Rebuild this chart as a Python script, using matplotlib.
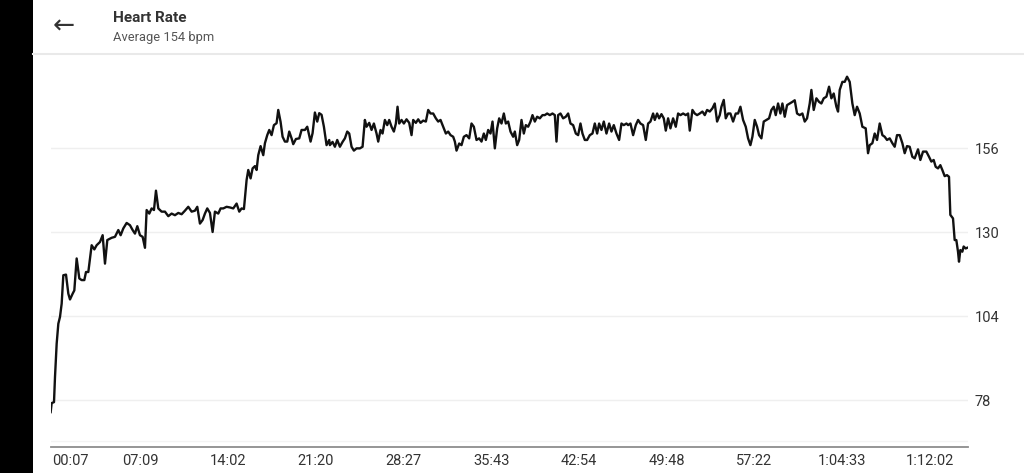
import matplotlib
matplotlib.use('Agg')
import matplotlib.pyplot as plt
from matplotlib.lines import Line2D
from matplotlib.patches import Rectangle

plt.rcParams['font.family'] = ['Roboto', 'DejaVu Sans']

# heart rate trace, position along the session (watch sample clock) vs bpm
t = [152, 155, 162, 165, 170, 175, 180, 185, 190, 198, 205, 210, 218, 223, 230, 238, 245, 253, 258, 265,
     270, 275, 283, 290, 300, 308, 315, 322, 335, 345, 355, 362, 370, 380, 390, 398, 405, 412, 420, 428,
     435, 440, 448, 455, 462, 468, 475, 485, 495, 505, 515, 525, 535, 545, 555, 565, 575, 585, 592, 600,
     608, 615, 622, 630, 638, 645, 655, 662, 670, 680, 690, 700, 710, 718, 725, 732, 740, 745, 752, 758,
     765, 770, 775, 782, 790, 795, 802, 808, 815, 822, 830, 835, 842, 848, 855, 862, 868, 875, 880, 888,
     898, 905, 915, 922, 932, 938, 945, 952, 958, 965, 972, 980, 988,
     990, 998, 1005, 1012, 1020, 1028, 1035, 1042, 1048, 1055, 1062, 1070, 1080, 1088, 1095, 1100, 1108,
     1115, 1122, 1130, 1135, 1142, 1148, 1155, 1162, 1168, 1175, 1182, 1188, 1193, 1198, 1205, 1212, 1220,
     1228, 1235, 1240, 1248, 1255, 1262, 1270, 1278, 1285, 1292, 1300, 1308, 1315, 1322, 1330, 1338, 1345,
     1352, 1360, 1365, 1370, 1378, 1385, 1392, 1400, 1408, 1415, 1422, 1430, 1438, 1445, 1452, 1458, 1465,
     1472, 1478, 1485, 1492, 1498, 1505, 1512, 1518, 1525, 1532, 1540, 1545, 1552, 1558, 1565, 1572, 1578,
     1585, 1592, 1598, 1605, 1612, 1620, 1628, 1635, 1642, 1650, 1658, 1665, 1670, 1675, 1682, 1690, 1698,
     1705, 1712, 1720, 1728, 1735, 1742, 1748, 1755, 1762, 1770, 1778, 1785, 1792, 1798, 1805, 1812, 1820,
     1828, 1835, 1842, 1850, 1858, 1865, 1872, 1880,
     1885, 1892, 1900, 1908, 1915, 1922, 1930, 1938, 1945, 1952, 1960, 1965, 1972, 1978, 1985, 1992, 1998,
     2005, 2012, 2020, 2028, 2035, 2042, 2050, 2058, 2065, 2070, 2078, 2085, 2092, 2100, 2108, 2115, 2122,
     2130, 2138, 2145, 2152, 2160, 2165, 2172, 2178, 2185, 2192, 2200, 2208, 2215, 2222, 2230, 2238, 2245,
     2252, 2258, 2265, 2272, 2278, 2285, 2292, 2300, 2308, 2315, 2322, 2328, 2335, 2342, 2348, 2355, 2362,
     2370, 2378, 2385, 2392, 2400, 2408, 2415, 2422, 2430, 2435, 2442, 2450, 2458, 2465, 2472, 2480, 2488,
     2495, 2502, 2510, 2515, 2520, 2528, 2535, 2542, 2550, 2558, 2565, 2572, 2580, 2588, 2598, 2605, 2610,
     2618, 2625, 2632, 2640, 2648, 2655, 2662, 2670, 2678, 2685, 2692, 2700,
     2708, 2715, 2722, 2730, 2738, 2745, 2755, 2762, 2770, 2780, 2788, 2795, 2802, 2808, 2815, 2822, 2828,
     2835, 2842, 2848, 2852, 2860, 2865, 2870, 2872, 2875, 2878, 2882, 2888, 2892, 2898, 2905]

bpm = [74.3, 77.1, 77.4, 85.2, 95.5, 101.7, 103.8, 107.9, 116.7, 116.9, 111.0, 109.2, 111.0, 112.0, 121.9,
       115.7, 115.2, 115.2, 117.7, 117.7, 121.9, 126.0, 124.7, 126.0, 127.0, 129.1, 120.3, 127.6, 128.3,
       128.6, 130.7, 129.1, 131.2, 132.9, 132.2, 130.7, 129.6, 131.9, 129.1, 128.6, 125.2, 136.9, 135.8,
       137.4, 136.9, 142.9, 137.4, 136.4, 136.4, 135.0, 135.8, 135.3, 136.0, 135.6, 136.7, 137.9, 136.4,
       136.7, 137.9, 132.7, 133.8, 135.8, 137.4, 136.0, 130.1, 136.4, 135.8, 137.4, 137.4, 137.9, 137.7,
       137.4, 138.9, 136.4, 137.4, 137.2, 146.2, 149.3, 146.7, 149.8, 150.5, 149.3, 153.9, 156.7, 153.9,
       157.6, 160.1, 161.7, 160.1, 163.2, 163.8, 167.9, 164.2, 159.6, 158.1, 158.1, 161.2, 159.1, 157.3,
       158.9, 159.1, 161.7, 161.7, 162.7, 158.1, 160.7, 167.1, 164.3, 166.9, 166.4, 162.7, 157.0, 158.6,
       157.0, 158.0, 156.5, 158.6, 156.5, 158.0, 159.1, 161.2, 160.6, 156.5, 155.3, 156.0, 156.0, 156.5,
       164.8, 162.7, 163.9, 161.7, 163.7, 160.6, 158.1, 161.7, 160.6, 164.8, 163.2, 164.8, 162.7, 161.2,
       163.7, 168.9, 163.7, 164.8, 163.7, 165.0, 163.9, 160.1, 164.8, 163.9, 165.0, 163.9, 164.6, 164.3,
       167.9, 166.8, 166.8, 165.3, 164.3, 164.8, 162.7, 160.6, 161.2, 160.1, 159.6, 158.1, 155.3, 157.5,
       157.0, 159.6, 160.1, 159.1, 163.7, 162.7, 158.6, 159.1, 158.1, 160.6, 158.6, 161.7, 160.6, 164.3,
       156.0, 162.2, 165.3, 163.7, 166.8, 163.7, 164.3, 161.2, 159.6, 161.2, 157.0, 158.6, 164.8, 160.6,
       163.2, 162.7, 164.3, 166.3, 164.3, 165.8, 165.3, 166.3, 166.3, 166.8, 166.3, 166.8, 166.3, 158.1,
       166.3, 166.8, 165.3, 165.8, 166.8, 163.7, 163.2, 160.6, 160.1, 163.7, 160.6, 158.6, 158.6, 160.1,
       160.6, 163.7, 160.6, 163.7, 161.7, 164.3, 160.6, 163.7, 161.2, 163.2, 160.6, 158.6, 163.7, 163.2,
       163.7,
       163.2, 163.7, 160.1, 163.2, 164.8, 163.7, 163.2, 158.6, 163.7, 164.3, 166.8, 164.8, 166.8, 165.3,
       166.6, 165.3, 161.5, 165.3, 162.2, 165.3, 162.7, 166.8, 166.3, 166.8, 166.3, 166.8, 161.5, 167.9,
       166.8, 166.3, 166.8, 167.4, 166.3, 167.9, 167.4, 168.4, 169.9, 164.3, 166.3, 168.9, 171.0, 165.3,
       166.8, 166.8, 164.3, 166.8, 166.8, 168.9, 164.8, 162.7, 159.1, 157.0, 159.6, 164.8, 162.7, 160.1,
       159.1, 164.3, 164.8, 165.3, 167.9, 168.9, 166.3, 169.9, 166.8, 169.9, 165.8, 169.4, 169.9, 170.4,
       170.9, 166.8, 166.3, 166.8, 164.3, 165.3, 169.9, 174.1, 167.9, 171.5, 170.4, 169.9, 171.5, 172.0,
       175.1, 171.5, 173.0, 168.9, 167.4, 174.1, 176.6, 176.6, 178.2, 176.6, 169.9, 166.3, 168.9, 166.8,
       162.7, 162.2, 154.5, 157.0, 157.6, 160.6, 158.6, 163.7, 160.1, 159.6, 158.6, 159.1, 157.6, 156.5,
       160.1, 160.1,
       157.6, 154.5, 156.7, 156.5, 153.4, 152.9, 155.7, 152.4, 155.0, 155.0, 153.4, 151.9, 152.4, 150.3,
       149.8, 150.8, 149.3, 147.4, 147.7, 147.2, 135.4, 134.3, 127.6, 127.6, 126.1, 124.0, 120.9, 124.5,
       124.0, 125.6, 125.0, 125.3]

y_ticks = [78, 104, 130, 156]
tick_pos = [157, 420, 684, 947, 1210, 1474, 1737, 2001, 2264, 2527, 2791]
tick_labels = ['00:07', '07:09', '14:02', '21:20', '28:27', '35:43',
               '42:54', '49:48', '57:22', '1:04:33', '1:12:02']

fig = plt.figure(figsize=(10.24, 4.73), dpi=100)
W, H = 1024.0, 473.0

# black strip on the left edge of the screenshot
fig.add_artist(Rectangle((0, 0), 33 / W, 1, transform=fig.transFigure,
                         facecolor='black', edgecolor='none'))

# header
fig.text(64 / W, 1 - 27 / H, '\u2190', family='DejaVu Sans', fontsize=19,
         ha='center', va='center', color='#333333')
fig.text(113 / W, 1 - 18.5 / H, 'Heart Rate', fontsize=11, fontweight='bold',
         ha='left', va='center', color='#333333')
fig.text(113 / W, 1 - 38 / H, 'Average 154 bpm', fontsize=9.3,
         ha='left', va='center', color='#555555')
fig.add_artist(Line2D([33 / W, 1], [1 - 53.5 / H] * 2, transform=fig.transFigure,
                      color='#e9e9e9', lw=1.5))

ax = fig.add_axes([51 / W, (H - 447) / H, 917 / W, 390 / H])
ax.plot(t, bpm, color='#111111', lw=1.7, solid_joinstyle='round')
ax.set_xlim(153, 2905)
ax.set_ylim(63.5, 184.3)

ax.set_yticks(y_ticks)
ax.yaxis.tick_right()
ax.grid(axis='y', color='#efefef', lw=1)
ax.axhline(65.4, color='#f3f3f3', lw=1)
ax.set_axisbelow(True)

ax.set_xticks(tick_pos)
ax.set_xticklabels(tick_labels)
ax.get_xticklabels()[0].set_ha('left')
ax.tick_params(axis='y', length=0, pad=5, labelsize=10.5, labelcolor='#333333')
ax.tick_params(axis='x', length=0, pad=5, labelsize=10.5, labelcolor='#333333')

for s in ['top', 'left', 'right']:
    ax.spines[s].set_visible(False)
ax.spines['bottom'].set_color('#8c8c8c')
ax.spines['bottom'].set_linewidth(1.3)

fig.savefig('out.png', dpi=100)
